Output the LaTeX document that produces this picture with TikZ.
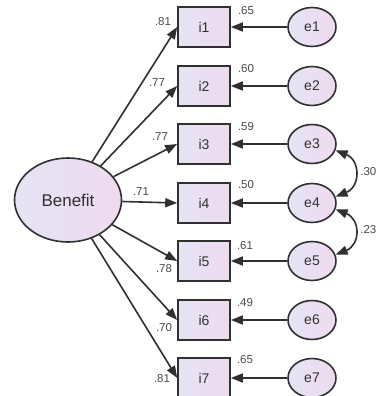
\documentclass[tikz,border=0pt]{standalone}
\usepackage{fontspec}
\setmainfont{Liberation Sans}
\usetikzlibrary{arrows.meta,shapes.geometric}
\definecolor{lavL}{HTML}{E4E4F4}
\definecolor{lavR}{HTML}{F0DAF0}
\definecolor{ink}{HTML}{303030}
\definecolor{lbl}{HTML}{4A4A4A}
\tikzset{
  obs/.style={draw=ink, line width=1.6pt, left color=lavL, right color=lavR, minimum width=52pt, minimum height=40pt, inner sep=0pt, font=\fontsize{14}{14}\selectfont, text=ink},
  err/.style={ellipse, draw=ink, line width=1.6pt, left color=lavL, right color=lavR, minimum width=48pt, minimum height=39pt, inner sep=0pt, font=\fontsize{14}{14}\selectfont, text=ink},
  lat/.style={ellipse, draw=ink, line width=1.6pt, left color=lavL, right color=lavR, minimum width=107pt, minimum height=84pt, inner sep=0pt, font=\fontsize{17}{17}\selectfont, text=ink},
  path/.style={draw=ink, line width=1.6pt, -{Triangle[length=12pt,width=9pt]}},
  cov/.style={draw=ink, line width=1.6pt, {Triangle[length=12pt,width=9pt]}-{Triangle[length=12pt,width=9pt]}},
  val/.style={font=\fontsize{11.5}{11.5}\selectfont, text=lbl, inner sep=0pt}
}
\begin{document}
\begin{tikzpicture}[x=1pt,y=-1pt]
\useasboundingbox (0,0) rectangle (377,396);
\node[lat] (ben) at (68,200) {Benefit};
\foreach \k/\y in {1/27,2/86,3/144,4/203,5/261,6/320,7/378}{
  \node[obs] (i\k) at (204,\y) {i\k};
  \node[err] (e\k) at (312,\y) {e\k};
  \draw[path] (e\k) -- (i\k.east);
  \draw[path] (ben) -- (i\k.west);
}
\node[val] (l1) at (163,22) {.81};
\node[val] (l2) at (157,83) {.77};
\node[val] (l3) at (160,137) {.77};
\node[val] (l4) at (141,192) {.71};
\node[val] (l5) at (164,269) {.78};
\node[val] (l6) at (164,328) {.70};
\node[val] (l7) at (162,379) {.81};
\node[val] (v1) at (246,11) {.65};
\node[val] (v2) at (246,69) {.60};
\node[val] (v3) at (246,127) {.59};
\node[val] (v4) at (246,185) {.50};
\node[val] (v5) at (245,246) {.61};
\node[val] (v6) at (245,303) {.49};
\node[val] (v7) at (245,360) {.65};
\draw[cov] (e3.-15) .. controls +(25,10) and +(25,-10) .. (e4.15);
\draw[cov] (e4.-15) .. controls +(25,10) and +(25,-10) .. (e5.15);
\node[val, anchor=east] (c1) at (376.5,172) {.30};
\node[val, anchor=east] (c2) at (376.5,230) {.23};
\end{tikzpicture}
\end{document}
